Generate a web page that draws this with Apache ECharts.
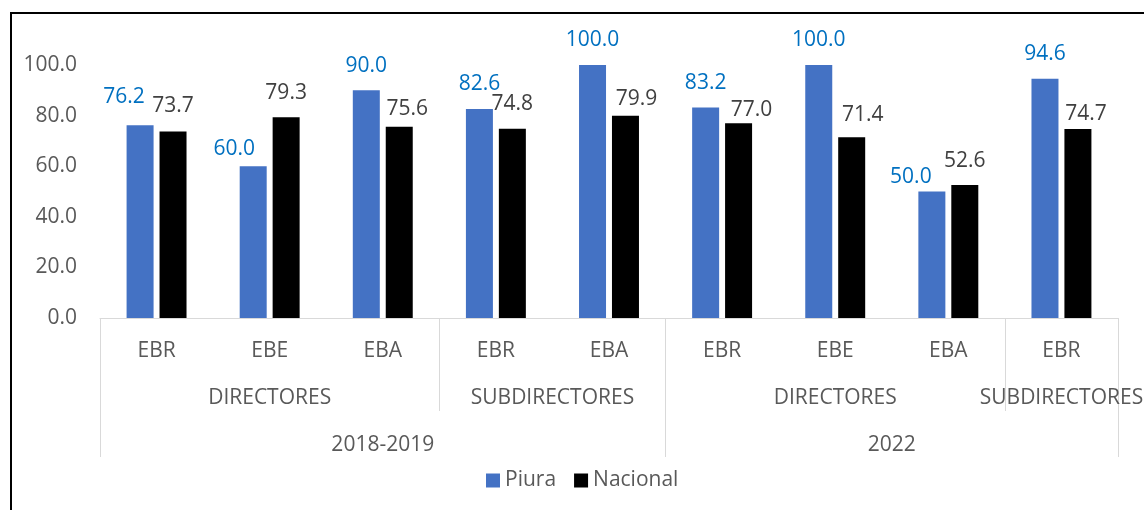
<!DOCTYPE html>
<html>
<head>
<meta charset="utf-8">
<script src="https://cdn.jsdelivr.net/npm/echarts@6/dist/echarts.min.js"></script>
<style>
    html, body { margin: 0; padding: 0; background: #fff; }
    #chart { width: 1144px; height: 510px; }
</style>
</head>
<body>
<div id="chart"></div>
<script>
    // datos del grafico
    var niveles = ['EBR', 'EBE', 'EBA', 'EBR', 'EBA', 'EBR', 'EBE', 'EBA', 'EBR'];
    var cargos = ['DIRECTORES', 'SUBDIRECTORES', 'DIRECTORES', 'SUBDIRECTORES'];
    var cargosSpan = [3, 2, 3, 1];
    var periodos = ['2018-2019', '2022'];
    var periodosSpan = [5, 4];
    var piura = [76.2, 60.0, 90.0, 82.6, 100.0, 83.2, 100.0, 50.0, 94.6];
    var nacional = [73.7, 79.3, 75.6, 74.8, 79.9, 77.0, 71.4, 52.6, 74.7];
    var yTicks = [0, 20, 40, 60, 80, 100];

    // etiquetas que en el original estan movidas a mano (dx, dy)
    var piuraNudge = [[-16, -4], [-19, 7], [0, 0], [0, -1], [0, 0], [0, 0], [0, 0], [-21, 10], [0, 0]];
    var nacionalNudge = [[0, -1], [0, 0], [8, 7], [0, 0], [11, 8], [13, 11], [11, 2], [0, 1], [8, 10]];

    var FONT = 'Open Sans';
    var GRAY = '#595959';
    var LINE = '#d9d9d9';

    // ejes de grupo: medio-paso por categoria, el nombre va al centro del grupo
    function halfSlots(names, spans) {
        var total = spans.reduce(function (a, b) { return a + b; }, 0);
        var slots = [];
        for (var i = 0; i <= total * 2; i++) slots.push('');
        var bounds = [0], pos = 0;
        names.forEach(function (n, i) {
            slots[pos * 2 + spans[i]] = n;
            pos += spans[i];
            bounds.push(pos * 2);
        });
        return { slots: slots, bounds: bounds };
    }
    var cargoAxis = halfSlots(cargos, cargosSpan);
    var periodoAxis = halfSlots(periodos, periodosSpan);

    function withNudge(values, nudge) {
        return values.map(function (v, i) {
            return { value: v, label: { offset: nudge[i] } };
        });
    }

    var chart = echarts.init(document.getElementById('chart'));
    chart.setOption({
        animation: false,
        textStyle: { fontFamily: FONT },
        graphic: [{
            type: 'rect',
            shape: { x: 11, y: 13, width: 1400, height: 800 },
            style: { fill: 'none', stroke: '#000', lineWidth: 2 },
            silent: true
        }],
        legend: {
            data: ['Piura', 'Nacional'],
            left: 486,
            top: 470,
            padding: 0,
            icon: 'rect',
            itemWidth: 14,
            itemHeight: 14,
            itemGap: 18,
            textStyle: { color: GRAY, fontSize: 21, fontFamily: FONT }
        },
        grid: [
            { left: 100, right: 26, top: 65, bottom: 192, outerBoundsMode: 'none' },
            { left: 100, right: 26, top: 318, bottom: 99, outerBoundsMode: 'none' },
            { left: 100, right: 26, top: 318, bottom: 53, outerBoundsMode: 'none' }
        ],
        xAxis: [{
            type: 'category',
            gridIndex: 0,
            data: niveles,
            axisLine: { lineStyle: { color: LINE, width: 1 } },
            axisTick: { show: false },
            axisLabel: { color: GRAY, fontSize: 21, margin: 23, interval: 0 }
        }, {
            type: 'category',
            gridIndex: 1,
            data: cargoAxis.slots,
            boundaryGap: false,
            axisLine: { show: false },
            axisTick: { show: false },
            axisLabel: { color: GRAY, fontSize: 21, inside: true, margin: 2, interval: 0 },
            splitLine: {
                show: true,
                interval: function (idx) { return cargoAxis.bounds.indexOf(idx) > -1; },
                lineStyle: { color: LINE, width: 1 }
            }
        }, {
            type: 'category',
            gridIndex: 2,
            data: periodoAxis.slots,
            boundaryGap: false,
            axisLine: { show: false },
            axisTick: { show: false },
            axisLabel: { color: GRAY, fontSize: 21, inside: true, margin: 1, interval: 0 },
            splitLine: {
                show: true,
                interval: function (idx) { return periodoAxis.bounds.indexOf(idx) > -1; },
                lineStyle: { color: LINE, width: 1 }
            }
        }],
        yAxis: [{
            type: 'value',
            gridIndex: 0,
            min: yTicks[0],
            max: yTicks[yTicks.length - 1],
            interval: yTicks[1] - yTicks[0],
            axisLine: { show: false },
            axisTick: { show: false },
            splitLine: { show: false },
            axisLabel: {
                color: GRAY, fontSize: 21, margin: 23,
                formatter: function (v) { return v.toFixed(1); }
            }
        }, {
            type: 'value', gridIndex: 1, min: 0, max: 1, show: false
        }, {
            type: 'value', gridIndex: 2, min: 0, max: 1, show: false
        }],
        series: [{
            name: 'Piura',
            type: 'bar',
            xAxisIndex: 0,
            yAxisIndex: 0,
            data: withNudge(piura, piuraNudge),
            barWidth: 27,
            barGap: '22%',
            itemStyle: { color: '#4472c4' },
            label: {
                show: true, position: 'top', distance: 14,
                color: '#0070c0', fontSize: 21,
                formatter: function (p) { return p.value.toFixed(1); }
            }
        }, {
            name: 'Nacional',
            type: 'bar',
            xAxisIndex: 0,
            yAxisIndex: 0,
            data: withNudge(nacional, nacionalNudge),
            barWidth: 27,
            itemStyle: { color: '#000000' },
            label: {
                show: true, position: 'top', distance: 14,
                color: '#404040', fontSize: 21,
                formatter: function (p) { return p.value.toFixed(1); }
            }
        }]
    });
    window.addEventListener('resize', chart.resize);
</script>
</body>
</html>
